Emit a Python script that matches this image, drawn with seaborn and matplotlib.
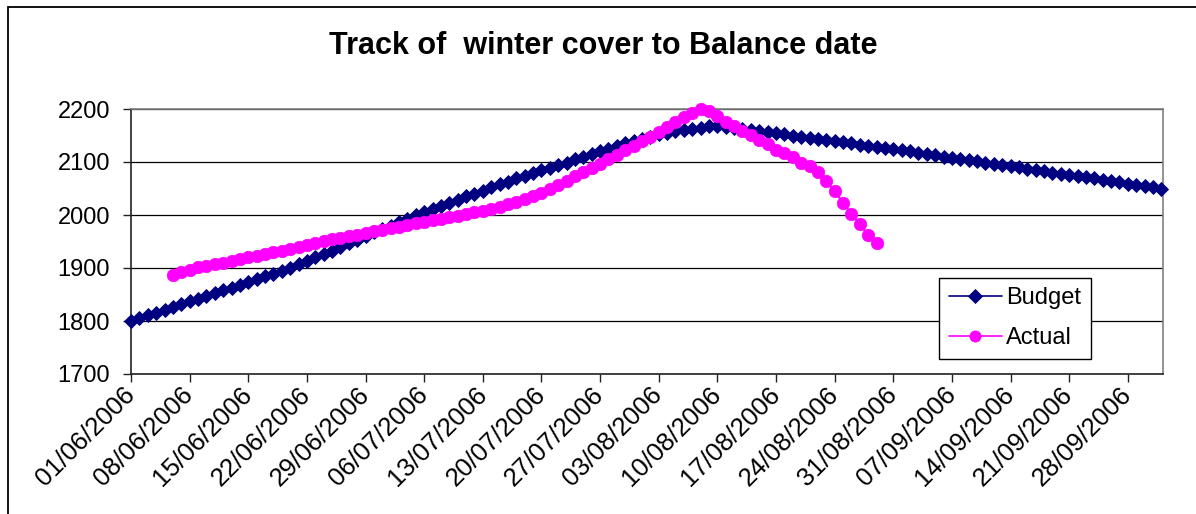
import matplotlib
matplotlib.use("Agg")
import matplotlib.pyplot as plt
import matplotlib.dates as mdates
from matplotlib.patches import Rectangle
import matplotlib.transforms as mtransforms
import seaborn as sns
import pandas as pd

# ---------------- data ----------------
budget_start = "2006-06-01"
budget = [
    1800, 1805, 1811, 1816, 1821, 1826, 1832, 1837, 1842, 1847,
    1853, 1858, 1863, 1868, 1874, 1879, 1884, 1889, 1895, 1900,
    1907, 1913, 1920, 1927, 1933, 1940, 1947, 1953, 1960, 1967,
    1973, 1980, 1987, 1993, 2000, 2006, 2012, 2017, 2023, 2029,
    2035, 2040, 2046, 2052, 2058, 2063, 2069, 2074, 2079, 2084,
    2089, 2094, 2099, 2105, 2110, 2115, 2120, 2125, 2130, 2135,
    2139, 2144, 2148, 2152, 2155, 2158, 2161, 2163, 2165, 2167,
    2168, 2166, 2164, 2162, 2160, 2158, 2156, 2154, 2152, 2150,
    2148, 2146, 2144, 2142, 2140, 2138, 2135, 2133, 2131, 2129,
    2126, 2124, 2122, 2120, 2117, 2115, 2113, 2110, 2108, 2106,
    2103, 2101, 2099, 2097, 2094, 2092, 2090, 2087, 2085, 2083,
    2080, 2078, 2076, 2073, 2071, 2069, 2066, 2064, 2062, 2059,
    2057, 2055, 2052, 2050,
]

actual_start = "2006-06-06"
actual = [
    1887, 1892, 1897, 1901, 1904, 1907, 1910, 1913, 1917, 1920,
    1922, 1926, 1930, 1933, 1936, 1939, 1944, 1948, 1951, 1954,
    1957, 1960, 1963, 1966, 1969, 1972, 1975, 1978, 1981, 1984,
    1987, 1990, 1993, 1996, 1999, 2002, 2005, 2008, 2012, 2016,
    2020, 2025, 2030, 2036, 2042, 2049, 2057, 2065, 2073, 2081,
    2089, 2097, 2105, 2113, 2122, 2130, 2139, 2148, 2157, 2166,
    2175, 2184, 2193, 2200, 2197, 2186, 2176, 2167, 2158, 2151,
    2142, 2134, 2123, 2117, 2110, 2099, 2092, 2081, 2064, 2045,
    2023, 2002, 1983, 1962, 1947,
]

tick_labels = [
    "01/06/2006", "08/06/2006", "15/06/2006", "22/06/2006", "29/06/2006",
    "06/07/2006", "13/07/2006", "20/07/2006", "27/07/2006", "03/08/2006",
    "10/08/2006", "17/08/2006", "24/08/2006", "31/08/2006", "07/09/2006",
    "14/09/2006", "21/09/2006", "28/09/2006",
]
y_ticks = [1700, 1800, 1900, 2000, 2100, 2200]
title = "Track of  winter cover to Balance date"
series_names = ["Budget", "Actual"]

# ---------------- frames ----------------
df_b = pd.DataFrame({"date": pd.date_range(budget_start, periods=len(budget), freq="D"),
                     "value": budget})
df_a = pd.DataFrame({"date": pd.date_range(actual_start, periods=len(actual), freq="D"),
                     "value": actual})

sns.set_style("white")
plt.rcParams["font.family"] = ["Liberation Sans", "DejaVu Sans"]
plt.rcParams["text.color"] = "black"
plt.rcParams["xtick.color"] = "black"
plt.rcParams["ytick.color"] = "black"
plt.rcParams["axes.labelcolor"] = "black"

fig = plt.figure(figsize=(11.96, 5.14), dpi=100)
ax = fig.add_axes([131 / 1196, 1 - 374 / 514, (1163 - 131) / 1196, (374 - 109) / 514])

navy = "#000080"
magenta = "#FF00FF"

sns.lineplot(data=df_b, x="date", y="value", ax=ax, color=navy, lw=1.5,
             marker="D", markersize=7.4, markeredgecolor=navy, markeredgewidth=0.6,
             label=series_names[0], clip_on=False, zorder=3)
sns.lineplot(data=df_a, x="date", y="value", ax=ax, color=magenta, lw=1.5,
             marker="o", markersize=9.0, markeredgecolor=magenta, markeredgewidth=0.5,
             label=series_names[1], clip_on=False, zorder=4)

# axes limits
x0 = mdates.date2num(pd.Timestamp(budget_start))
ax.set_xlim(x0, x0 + 123.2)
ax.set_ylim(y_ticks[0], y_ticks[-1])

tick_dates = pd.to_datetime(tick_labels, format="%d/%m/%Y")
ax.set_xticks(tick_dates)
ax.set_xticklabels(tick_labels, rotation=45, ha="right", va="center",
                   rotation_mode="anchor", fontsize=18.5)
offset = mtransforms.ScaledTranslation(-3 / 100, -5 / 100, fig.dpi_scale_trans)
for lbl in ax.get_xticklabels():
    lbl.set_transform(lbl.get_transform() + offset)
ax.set_yticks(y_ticks)
ax.set_yticklabels([str(v) for v in y_ticks], fontsize=17)

ax.set_xlabel("")
ax.set_ylabel("")

# grid
ax.yaxis.grid(True, color="#000000", lw=0.9)
ax.xaxis.grid(False)
ax.set_axisbelow(True)

for side in ["left", "bottom"]:
    ax.spines[side].set_color("#222222")
    ax.spines[side].set_linewidth(1.2)
for side in ["right", "top"]:
    ax.spines[side].set_visible(True)
    ax.spines[side].set_color("#808080")
    ax.spines[side].set_linewidth(1.2)

ax.tick_params(axis="y", direction="out", length=6, width=1, color="#222222", pad=9,
               left=True, labelcolor="black")
ax.tick_params(axis="x", direction="out", length=6, width=1, color="#222222", pad=6,
               bottom=True, labelcolor="black")

# legend
leg = ax.legend(loc="lower left", bbox_to_anchor=(0.783, 0.057), borderaxespad=0,
                fontsize=17, frameon=True, fancybox=False, framealpha=1,
                edgecolor="#000000", handlelength=2.25, handletextpad=0.2,
                labelspacing=0.78, borderpad=0.4, markerscale=0.9)
leg.get_frame().set_linewidth(1.0)
for h in leg.get_lines():
    h.set_linewidth(1.2)
for t in leg.get_texts():
    t.set_color("black")

# title
fig.text(0.504, 1 - 46 / 514, title, ha="center", va="center",
         fontsize=22, fontweight="bold", color="black")

# outer chart frame
fig.patches.append(Rectangle((8 / 1196, -0.05), 1.2, 1 - 7 / 514 + 0.05,
                             transform=fig.transFigure, fill=False,
                             edgecolor="#000000", lw=1.3, clip_on=False))

fig.savefig("out.png", dpi=100)
